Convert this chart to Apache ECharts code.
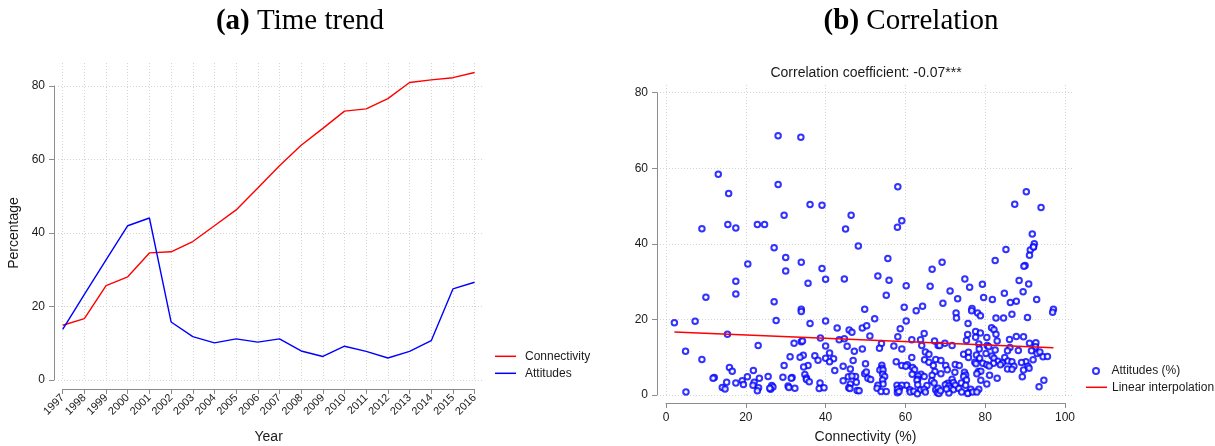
<!DOCTYPE html>
<html>
<head>
<meta charset="utf-8">
<script src="https://cdn.jsdelivr.net/npm/echarts@6/dist/echarts.min.js"></script>
<style>
  html, body { margin: 0; padding: 0; background: #fff; }
  #chart { width: 1215px; height: 446px; }
</style>
</head>
<body>
<div id="chart"></div>
<script>
// Panel (a): yearly averages
const years = [1997, 1998, 1999, 2000, 2001, 2002, 2003, 2004, 2005, 2006,
               2007, 2008, 2009, 2010, 2011, 2012, 2013, 2014, 2015, 2016];
const connectivityTrend = [14.9, 16.7, 25.7, 28.1, 34.6, 34.9, 37.7, 42.0, 46.3, 52.3,
                           58.3, 63.9, 68.5, 73.2, 73.8, 76.6, 81.0, 81.7, 82.3, 83.7];
const attitudesTrend = [13.8, 23.3, 32.7, 42.0, 44.1, 15.8, 11.8, 10.1, 11.2, 10.3,
                        11.2, 7.9, 6.4, 9.2, 7.8, 6.0, 7.8, 10.7, 24.8, 26.6];

// Panel (b): one observation per unit
const connectivity = [
  28.1, 33.8, 13.1, 28.1, 15.7, 58.1, 90.3, 36.1, 39.1, 87.4, 94.0, 29.6, 46.4, 15.5, 22.9, 24.7, 9.0, 17.5, 45.0, 58.0,
  59.1, 48.2, 91.8, 27.1, 92.3, 92.1, 91.3, 91.1, 85.2, 30.0, 33.9, 20.5, 55.6, 69.2, 82.5, 90.0, 89.7, 39.1, 30.0, 66.7,
  53.1, 17.5, 40.0, 44.7, 55.9, 74.9, 88.5, 35.6, 60.2, 79.3, 66.2, 76.1, 90.9, 71.2, 89.5, 17.5, 84.8, 10.0, 55.2, 79.6,
  73.1, 81.8, 92.9, 87.8, 86.3, 27.1, 69.4, 59.7, 64.3, 76.7, 49.8, 62.7, 33.9, 33.9, 97.1, 96.9, 72.7, 78.1, 76.6, 78.8,
  72.8, 82.7, 84.6, 86.7, 90.6, 2.1, 7.3, 27.6, 40.0, 60.2, 52.3, 36.1, 75.7, 42.9, 49.2, 50.3, 58.7, 81.6, 82.2, 45.9,
  46.6, 64.7, 77.6, 78.8, 15.4, 82.7, 51.1, 75.6, 58.1, 77.6, 80.4, 87.8, 89.6, 38.7, 43.4, 44.7, 61.6, 63.8, 67.3, 75.3,
  83.0, 86.1, 33.9, 34.2, 32.1, 54.0, 91.1, 92.7, 69.9, 23.1, 45.4, 40.0, 64.1, 57.1, 68.2, 68.6, 71.7, 78.4, 80.5, 80.9,
  86.2, 53.5, 49.2, 59.1, 78.5, 92.6, 91.6, 4.9, 47.2, 65.0, 82.5, 85.6, 88.3, 65.9, 74.6, 75.8, 80.2, 93.0, 93.7, 37.3,
  41.0, 77.8, 81.7, 31.1, 34.4, 33.6, 42.0, 40.0, 38.1, 61.6, 67.6, 75.8, 78.6, 82.2, 84.9, 94.5, 95.6, 9.0, 46.9, 64.8,
  68.9, 92.0, 83.2, 85.7, 41.0, 57.7, 65.9, 77.4, 86.7, 90.2, 50.0, 77.7, 79.4, 82.1, 84.3, 89.1, 83.8, 29.6, 35.6, 34.5,
  54.1, 44.4, 59.1, 60.5, 67.0, 70.1, 72.5, 73.5, 80.4, 81.0, 90.7, 87.2, 15.9, 60.1, 54.1, 61.8, 53.6, 85.6, 86.7, 89.6,
  91.0, 16.6, 21.9, 42.3, 46.2, 54.4, 62.3, 70.5, 78.3, 78.9, 67.4, 49.8, 50.2, 68.9, 72.4, 74.8, 75.1, 77.9, 34.8, 54.3,
  61.7, 63.9, 64.7, 63.2, 45.7, 47.5, 46.6, 54.8, 50.6, 66.7, 74.6, 81.1, 89.3, 20.4, 25.6, 35.2, 12.1, 11.8, 31.6, 31.4,
  23.4, 51.3, 35.2, 71.7, 63.1, 83.0, 19.1, 44.4, 54.3, 62.9, 66.6, 75.3, 78.9, 94.7, 35.9, 22.1, 17.5, 15.2, 38.6, 47.7,
  67.2, 70.6, 72.0, 74.0, 19.4, 21.8, 46.2, 54.4, 65.4, 60.3, 53.1, 57.9, 59.1, 63.1, 70.0, 70.9, 72.5, 75.1, 80.4, 93.5,
  26.5, 23.2, 26.8, 30.6, 30.8, 14.1, 14.8, 26.2, 26.0, 32.3, 38.4, 39.6, 45.8, 46.1, 52.9, 58.5, 58.0, 61.1, 63.8, 64.7,
  67.6, 68.2, 71.2, 72.0, 73.4, 76.4, 78.4, 22.9, 5.0, 47.9, 48.4, 53.9, 55.2, 58.0, 58.4, 61.2, 62.1, 63.0, 65.0, 68.0,
  68.4, 70.9, 74.1, 75.8, 75.6, 76.9, 77.9, 68.8, 70.3, 29.3, 92.1
];
const attitudes = [
  68.6, 68.2, 58.4, 55.7, 53.3, 55.1, 53.8, 50.4, 50.2, 50.5, 49.6, 47.6, 47.6, 45.1, 45.1, 45.1, 44.0, 44.2, 43.9, 44.4,
  46.1, 39.4, 42.6, 39.0, 40.0, 39.2, 38.4, 37.0, 38.5, 36.4, 35.1, 34.7, 36.1, 35.1, 35.6, 34.3, 34.1, 33.5, 32.8, 33.3,
  31.5, 30.1, 30.6, 30.7, 30.4, 30.7, 30.3, 29.6, 28.9, 29.3, 28.8, 28.5, 29.4, 27.5, 27.3, 26.7, 26.9, 25.9, 26.4, 25.8,
  25.5, 25.3, 25.3, 24.8, 24.5, 24.7, 24.3, 23.2, 23.5, 22.9, 22.7, 22.3, 22.7, 22.1, 22.7, 21.9, 21.7, 21.7, 22.3, 21.0,
  20.4, 20.4, 20.4, 21.4, 20.5, 19.1, 19.5, 19.7, 19.6, 19.6, 20.2, 18.9, 18.9, 17.7, 17.7, 18.3, 17.5, 17.8, 17.3, 17.2,
  16.6, 16.3, 16.8, 16.4, 16.1, 16.1, 15.6, 16.0, 15.4, 15.3, 15.2, 15.5, 15.4, 15.1, 14.6, 14.9, 14.6, 14.6, 14.3, 14.4,
  14.3, 14.7, 14.1, 14.3, 13.7, 13.6, 13.7, 13.8, 13.7, 13.1, 12.9, 13.0, 13.1, 13.0, 13.1, 13.1, 13.1, 13.5, 13.1, 12.8,
  12.6, 12.4, 12.2, 12.2, 12.2, 12.8, 11.7, 11.6, 11.6, 11.4, 11.9, 11.7, 11.8, 10.8, 10.8, 11.3, 11.0, 11.0, 11.4, 10.4,
  11.1, 10.6, 10.3, 10.1, 10.5, 10.0, 9.6, 9.7, 9.2, 9.9, 9.4, 9.9, 9.7, 9.7, 9.9, 10.1, 10.2, 9.4, 9.1, 9.3,
  9.1, 9.3, 8.9, 9.0, 8.8, 8.8, 8.7, 8.7, 8.8, 8.8, 8.3, 8.3, 8.4, 8.4, 8.5, 8.6, 8.0, 7.8, 7.8, 7.4,
  7.9, 7.6, 7.8, 8.0, 7.8, 7.8, 8.1, 7.8, 8.0, 7.7, 7.6, 7.6, 7.3, 7.6, 7.1, 7.3, 6.6, 6.9, 6.8, 6.6,
  7.1, 6.3, 6.5, 6.5, 6.9, 6.6, 6.7, 6.7, 6.2, 6.3, 6.2, 5.6, 6.1, 5.6, 6.0, 6.0, 5.3, 5.6, 5.4, 5.5,
  5.5, 5.5, 4.9, 5.0, 4.8, 4.9, 5.0, 4.9, 4.4, 5.2, 4.9, 5.2, 4.8, 4.8, 4.9, 4.5, 4.6, 4.4, 4.6, 4.4,
  4.4, 4.1, 4.1, 4.2, 4.2, 4.4, 3.8, 3.8, 4.0, 3.9, 3.8, 4.0, 3.9, 3.9, 3.5, 3.4, 3.2, 3.4, 3.2, 3.4,
  3.2, 3.1, 3.3, 3.2, 2.8, 2.6, 2.9, 2.9, 2.5, 2.6, 2.6, 2.6, 2.6, 2.7, 2.7, 2.4, 2.6, 2.6, 2.9, 2.2,
  2.5, 1.9, 2.1, 2.4, 2.0, 2.0, 1.6, 1.5, 1.8, 1.8, 1.7, 1.9, 1.9, 1.7, 1.8, 1.8, 1.5, 1.4, 1.3, 1.5,
  1.4, 1.8, 1.8, 1.4, 1.7, 1.5, 1.5, 1.1, 0.8, 1.2, 1.1, 0.9, 0.9, 0.6, 0.9, 0.8, 1.0, 0.3, 0.8, 0.6,
  0.4, 0.5, 0.8, 0.6, 0.4, 0.8, 0.8, 1.1, 1.6, 4.7, 39.2
];

// Fitted line endpoints (connectivity, attitudes)
const fitX = [2.1, 97.1];
const fitY = [16.7, 12.5];

const yTicks = [0, 20, 40, 60, 80];
const xTicksB = [0, 20, 40, 60, 80, 100];

const RED = '#ff0000';
const BLUE = '#0000ff';
const AXIS = '#8c8c8c';
const GRID = '#d4d4d4';
const TEXT = '#1a1a1a';
const SANS = '"Liberation Sans", Arial, sans-serif';
const SERIF = '"Liberation Serif", "Times New Roman", serif';

const zip = (a, b) => a.map((v, i) => [v, b[i]]);

const gridLine = { show: true, lineStyle: { color: GRID, width: 1, type: [1, 2] } };
const axisLineStyle = { show: true, onZero: false, lineStyle: { color: AXIS, width: 1 } };
const tickStyle = { show: true, length: 5, lineStyle: { color: AXIS } };

const panelTitle = (label, rest, x) => ({
  text: '{b|' + label + '} ' + rest,
  left: x, top: 7, textAlign: 'center', padding: 0,
  textStyle: {
    fontFamily: SERIF, fontSize: 29, fontWeight: 'normal', color: '#000',
    rich: { b: { fontFamily: SERIF, fontSize: 29, fontWeight: 'bold', color: '#000' } }
  }
});

// fixed plot rectangles; labels may sit outside them
const plotBox = (left, top, width, height) =>
  ({ left, top, width, height, containLabel: false, outerBoundsMode: 'none' });

const option = {
  animation: false,
  backgroundColor: '#ffffff',
  textStyle: { fontFamily: SANS, color: TEXT },
  title: [
    panelTitle('(a)', 'Time trend', 300),
    panelTitle('(b)', 'Correlation', 911),
    {
      text: 'Correlation coefficient: -0.07***',
      left: 866, top: 66, textAlign: 'center', padding: 0,
      textStyle: { fontFamily: SANS, fontSize: 14, fontWeight: 'normal', color: TEXT }
    }
  ],
  legend: [
    {
      data: [{ name: 'Connectivity', icon: 'rect' }, { name: 'Attitudes', icon: 'rect' }],
      left: 495, top: 350.3, orient: 'vertical',
      itemWidth: 21, itemHeight: 1.5, itemGap: 5, padding: 0,
      selectedMode: false,
      textStyle: { fontFamily: SANS, fontSize: 12, color: TEXT, padding: [0, 0, 0, 4] }
    },
    {
      data: ['Attitudes (%)'],
      left: 1092, top: 365, orient: 'vertical',
      itemWidth: 21, itemHeight: 6, padding: 0,
      selectedMode: false,
      textStyle: { fontFamily: SANS, fontSize: 12, color: TEXT }
    },
    {
      data: [{ name: 'Linear interpolation', icon: 'rect' }],
      left: 1086, top: 381.3, orient: 'vertical',
      itemWidth: 21, itemHeight: 1.5, padding: 0,
      selectedMode: false,
      textStyle: { fontFamily: SANS, fontSize: 12, color: TEXT }
    }
  ],
  grid: [
    // (a) plot area holding the lines and the year grid
    plotBox(62.7, 63, 411.9, 317),
    // (a) value axis with horizontal grid
    plotBox(58, 86, 425, 294),
    // (b) plot area holding the points and the connectivity grid
    plotBox(666, 85, 399, 310),
    // (b) value axis with horizontal grid
    plotBox(660, 92.7, 412, 302.3)
  ],
  xAxis: [
    {
      gridIndex: 0, type: 'value', min: 1997, max: 2016, interval: 1, offset: 9,
      axisLine: axisLineStyle, axisTick: tickStyle,
      axisLabel: { rotate: 45, fontSize: 11, color: TEXT, margin: 7, fontFamily: SANS,
                   formatter: v => String(v) },
      splitLine: gridLine,
      name: 'Year', nameLocation: 'middle', nameGap: 41, nameMoveOverlap: false,
      nameTextStyle: { fontSize: 14, color: TEXT, fontFamily: SANS }
    },
    { gridIndex: 1, type: 'value', min: 0, max: 1, show: false },
    {
      gridIndex: 2, type: 'value', min: xTicksB[0], max: xTicksB[xTicksB.length - 1], interval: 20, offset: 8,
      axisLine: axisLineStyle, axisTick: tickStyle,
      axisLabel: { fontSize: 12, color: TEXT, margin: 9, fontFamily: SANS },
      splitLine: gridLine,
      name: 'Connectivity (%)', nameLocation: 'middle', nameGap: 27, nameMoveOverlap: false,
      nameTextStyle: { fontSize: 14, color: TEXT, fontFamily: SANS }
    },
    { gridIndex: 3, type: 'value', min: 0, max: 1, show: false }
  ],
  yAxis: [
    { gridIndex: 0, type: 'value', min: 0, max: 86.3, show: false },
    {
      gridIndex: 1, type: 'value', min: yTicks[0], max: yTicks[yTicks.length - 1], interval: 20, offset: 4,
      axisLine: axisLineStyle, axisTick: tickStyle,
      axisLabel: { fontSize: 12, color: TEXT, margin: 9, fontFamily: SANS },
      splitLine: gridLine,
      name: 'Percentage', nameLocation: 'middle', nameGap: 33, nameRotate: 90, nameMoveOverlap: false,
      nameTextStyle: { fontSize: 14, color: TEXT, fontFamily: SANS }
    },
    { gridIndex: 2, type: 'value', min: 0, max: 82.04, show: false },
    {
      gridIndex: 3, type: 'value', min: yTicks[0], max: yTicks[yTicks.length - 1], interval: 20, offset: 3,
      axisLine: axisLineStyle, axisTick: tickStyle,
      axisLabel: { fontSize: 12, color: TEXT, margin: 9, fontFamily: SANS },
      splitLine: gridLine
    }
  ],
  series: [
    {
      name: 'Connectivity', type: 'line', xAxisIndex: 0, yAxisIndex: 0,
      data: zip(years, connectivityTrend), symbol: 'none',
      lineStyle: { color: RED, width: 1.4 }, itemStyle: { color: RED },
      emphasis: { disabled: true }, z: 3
    },
    {
      name: 'Attitudes', type: 'line', xAxisIndex: 0, yAxisIndex: 0,
      data: zip(years, attitudesTrend), symbol: 'none',
      lineStyle: { color: BLUE, width: 1.4 }, itemStyle: { color: BLUE },
      emphasis: { disabled: true }, z: 4
    },
    {
      name: 'Attitudes (%)', type: 'scatter', xAxisIndex: 2, yAxisIndex: 2,
      data: zip(connectivity, attitudes), symbol: 'emptyCircle', symbolSize: 5.5,
      itemStyle: { color: BLUE, borderColor: BLUE, borderWidth: 1.4 },
      emphasis: { disabled: true }, z: 3
    },
    {
      name: 'Linear interpolation', type: 'line', xAxisIndex: 2, yAxisIndex: 2,
      data: zip(fitX, fitY), symbol: 'none',
      lineStyle: { color: RED, width: 1.5 }, itemStyle: { color: RED },
      emphasis: { disabled: true }, z: 4
    }
  ]
};

const chart = echarts.init(document.getElementById('chart'), null, { renderer: 'canvas' });
chart.setOption(option);
</script>
</body>
</html>
